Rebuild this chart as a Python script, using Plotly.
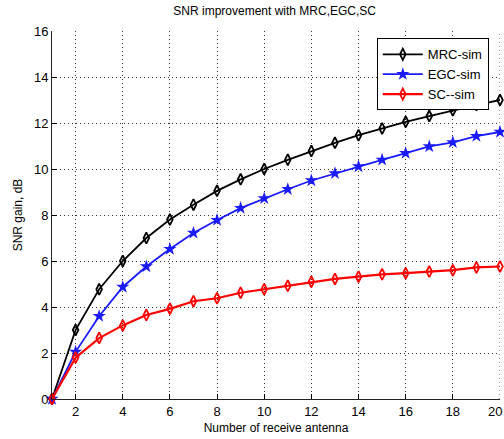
import plotly.graph_objects as go

antennas = list(range(1, 21))
mrc_sim = [0, 3.0, 4.77, 6.0, 7.0, 7.8, 8.45, 9.05, 9.55, 10.0, 10.4, 10.78, 11.14, 11.47, 11.76, 12.05, 12.3, 12.55, 12.78, 13.0]
egc_sim = [0, 2.05, 3.6, 4.87, 5.76, 6.52, 7.22, 7.78, 8.3, 8.72, 9.12, 9.5, 9.81, 10.11, 10.4, 10.69, 10.98, 11.16, 11.43, 11.61]
sc_sim = [0, 1.8, 2.65, 3.2, 3.65, 3.92, 4.25, 4.38, 4.62, 4.77, 4.92, 5.1, 5.22, 5.32, 5.42, 5.47, 5.54, 5.6, 5.72, 5.76]

x_ticks = list(range(2, 21, 2))
y_ticks = list(range(0, 17, 2))

fig = go.Figure()
fig.add_trace(go.Scatter(x=antennas, y=mrc_sim, name="MRC-sim", mode="lines+markers",
                         line=dict(color="black", width=1.8),
                         marker=dict(symbol="diamond-tall-open", size=8, color="black", line=dict(width=1.8)),
                         cliponaxis=False))
fig.add_trace(go.Scatter(x=antennas, y=egc_sim, name="EGC-sim", mode="lines+markers",
                         line=dict(color="#1a1aff", width=1.8),
                         marker=dict(symbol="star", size=10, color="#1a1aff"),
                         cliponaxis=False))
fig.add_trace(go.Scatter(x=antennas, y=sc_sim, name="SC--sim", mode="lines+markers",
                         line=dict(color="#ff0000", width=2.2),
                         marker=dict(symbol="diamond-tall-open", size=8, color="#ff0000", line=dict(width=1.8)),
                         cliponaxis=False))

font_family = "Liberation Sans, Arial, sans-serif"
grid_style = dict(showgrid=True, gridcolor="#333333", griddash="1px,3px", gridwidth=1, zeroline=False)

fig.update_layout(
    width=504, height=439,
    margin=dict(l=52, r=4, t=31, b=40),
    paper_bgcolor="white", plot_bgcolor="white",
    font=dict(family=font_family, size=12, color="black"),
    title=dict(text="SNR improvement with MRC,EGC,SC", x=0.545, xanchor="center", y=0.975, yanchor="middle",
               font=dict(size=12, family=font_family, color="black")),
    showlegend=True,
    legend=dict(x=0.725, y=0.98, xanchor="left", yanchor="top",
                bgcolor="white", bordercolor="black", borderwidth=1,
                font=dict(size=13, family=font_family), tracegroupgap=0, itemwidth=40),
    xaxis=dict(range=[1, 20], tickvals=x_ticks[:-1], ticks="inside", ticklen=5, tickcolor="black",
               showline=True, linecolor="#222222", linewidth=1, mirror=False,
               title=dict(text="Number of receive antenna", font=dict(size=12), standoff=6),
               tickfont=dict(size=13), **grid_style),
    yaxis=dict(range=[0, 16], tickvals=y_ticks, ticks="inside", ticklen=5, tickcolor="black",
               showline=True, linecolor="#222222", linewidth=1, mirror=False,
               title=dict(text="SNR gain, dB", font=dict(size=12), standoff=8),
               tickfont=dict(size=13), **grid_style),
)

# last x tick label sits at the right edge of the window; keep it fully visible
fig.add_annotation(x=x_ticks[-1], y=0, xref="x", yref="y", text=str(x_ticks[-1]),
                   showarrow=False, yanchor="top", xanchor="right", xshift=4, yshift=-3,
                   font=dict(size=13))
# gridline at x=20
fig.add_shape(type="line", x0=x_ticks[-1], x1=x_ticks[-1], y0=0, y1=16, xref="x", yref="y",
              line=dict(color="#333333", width=1, dash="1px,3px"))

fig.write_html("out.html")
